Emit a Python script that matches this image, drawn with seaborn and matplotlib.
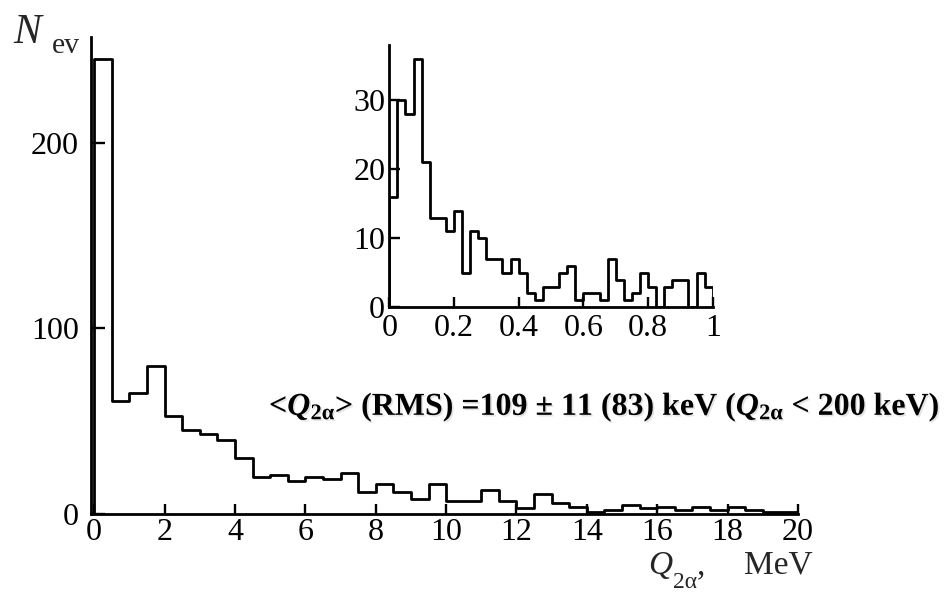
import numpy as np
import pandas as pd
import matplotlib
matplotlib.use("Agg")
import matplotlib.pyplot as plt
import matplotlib.patheffects as pe
import seaborn as sns

# Two-alpha energy spectrum, 0.5 MeV bins from 0 to 20 MeV
main_lo, main_hi, main_width = 0.0, 20.0, 0.5
main_counts = [245, 61, 65, 80, 53, 45, 43, 40, 30, 20,
               21, 18, 20, 19, 22, 12, 16, 12, 8, 16,
               7, 7, 13, 7, 3, 11, 6, 4, 1, 2,
               5, 3, 4, 2, 4, 2, 4, 2, 1, 1]
main_xticks = [0, 2, 4, 6, 8, 10, 12, 14, 16, 18, 20]
main_yticks = [0, 100, 200]

# Low-energy part, 25 keV bins from 0 to 1 MeV
inset_lo, inset_hi, inset_width = 0.0, 1.0, 0.025
inset_counts = [16, 30, 28, 36, 21, 13, 13, 11, 14, 5,
                11, 10, 7, 7, 5, 7, 5, 2, 1, 3,
                3, 5, 6, 1, 2, 2, 1, 7, 4, 1,
                2, 5, 3, 0, 3, 4, 4, 0, 5, 3]
inset_xticks = [0, 0.2, 0.4, 0.6, 0.8, 1]
inset_xticklabels = ["0", "0.2", "0.4", "0.6", "0.8", "1"]
inset_yticks = [0, 10, 20, 30]

note = ("<$\\mathbfit{Q}_{\\mathbf{2α}}$> (RMS) =109 ± 11 (83) keV "
        "($\\mathbfit{Q}_{\\mathbf{2α}}$ < 200 keV)")

sns.set_theme(style="ticks")
plt.rcParams["font.family"] = ["Liberation Serif", "DejaVu Serif"]
plt.rcParams["mathtext.fontset"] = "custom"
plt.rcParams["mathtext.rm"] = "Liberation Serif"
plt.rcParams["mathtext.it"] = "Liberation Serif:italic"
plt.rcParams["mathtext.bf"] = "Liberation Serif:bold"
plt.rcParams["mathtext.bfit"] = "Liberation Serif:italic:bold"

W, H = 945, 594
fig = plt.figure(figsize=(W / 100, H / 100), dpi=100)
LW = 2.0


def px_axes(left, top, right, bottom):
    return fig.add_axes([left / W, 1 - bottom / H, (right - left) / W, (bottom - top) / H])


def px_text(x, y, s, **kw):
    kw.setdefault("va", "baseline")
    kw.setdefault("ha", "left")
    return fig.text(x / W, 1 - y / H, s, **kw)


def step_hist(ax, lo, hi, width, counts):
    n = len(counts)
    centers = lo + width * (np.arange(n) + 0.5)
    df = pd.DataFrame({"q": centers, "n": np.asarray(counts, dtype=float)})
    sns.histplot(data=df, x="q", weights="n", binwidth=width, binrange=(lo, hi),
                 element="step", fill=False, color="black", linewidth=LW, ax=ax)
    # close the outline at both ends down to the baseline
    ax.vlines([lo, hi], 0, [counts[0], counts[-1]], color="black", linewidth=LW)


def style_axes(ax, xpad, ypad, xlen, ylen):
    sns.despine(ax=ax)
    for s in ("left", "bottom"):
        ax.spines[s].set_linewidth(LW)
        ax.spines[s].set_color("black")
    ax.tick_params(axis="both", direction="in", width=1.7, labelsize=23,
                   colors="black")
    ax.tick_params(axis="x", pad=xpad, length=xlen)
    ax.tick_params(axis="y", pad=ypad, length=ylen)
    ax.set_xlabel("")
    ax.set_ylabel("")
    ax.set_facecolor("none")
    ax.grid(False)


# main spectrum
ax = px_axes(91.4, 37, 798, 514)
step_hist(ax, main_lo, main_hi, main_width, main_counts)
ax.set_xlim(-0.08, 20)
ax.set_ylim(0, 257)
ax.set_xticks(main_xticks)
ax.set_yticks(main_yticks)
style_axes(ax, 3, 9, 7, 10)

# inset with the first MeV
axi = px_axes(389.3, 45, 712.7, 307.3)
step_hist(axi, inset_lo, inset_hi, inset_width, inset_counts)
axi.set_xlim(0, 1)
axi.set_ylim(0, 38)
axi.set_xticks(inset_xticks)
axi.set_xticklabels(inset_xticklabels)
axi.set_yticks(inset_yticks)
style_axes(axi, 5, 3, 7, 8)

# axis titles
px_text(13, 43, "N", fontsize=30, style="italic")
px_text(52, 53, "ev", fontsize=21.5)
px_text(648, 574, "Q", fontsize=24, style="italic")
px_text(673, 588, "2α", fontsize=17)
px_text(697, 574, ",", fontsize=24)
px_text(813, 574, "MeV", fontsize=24, ha="right")

# mean value note with a soft drop shadow
px_text(269, 415, note, fontsize=23, fontweight="bold", color="black",
        path_effects=[pe.SimplePatchShadow(offset=(1.2, -1.2),
                                           shadow_rgbFace="0.65", alpha=0.3),
                      pe.Normal()])

fig.savefig("out.png", dpi=100)
